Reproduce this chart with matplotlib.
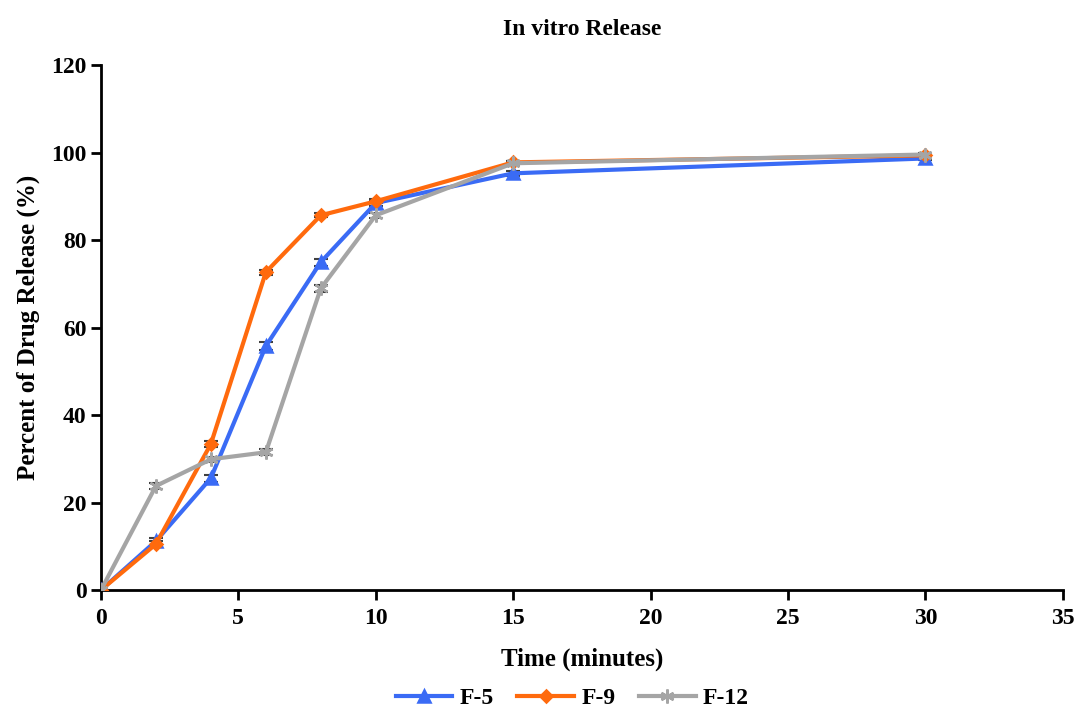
import numpy as np
import matplotlib.pyplot as plt

plt.rcParams['font.family'] = ['Liberation Serif', 'DejaVu Serif']
plt.rcParams['font.weight'] = 'bold'

time = [0, 2, 4, 6, 8, 10, 15, 30]
f5 = [0, 11.2, 25.6, 55.8, 75.0, 88.5, 95.3, 98.7]
f9 = [0, 10.5, 33.4, 72.7, 85.7, 88.9, 97.8, 99.4]
f12 = [0, 23.8, 29.9, 31.5, 69.0, 85.7, 97.6, 99.6]
f5_err = [0.5, 0.8, 0.8, 1.0, 0.8, 0.6, 0.5, 0.4]
f9_err = [0.4, 0.6, 0.7, 0.6, 0.5, 0.5, 0.4, 0.3]
f12_err = [0.5, 0.6, 0.6, 0.7, 0.8, 0.6, 0.5, 0.4]

fig = plt.figure(figsize=(10.8, 7.1), dpi=100)
ax = fig.add_axes([0.0935, 0.169, 0.8905, 0.739])

series = [
    ('F-5', f5, f5_err, '#3A6BF5', '^', 8),
    ('F-9', f9, f9_err, '#FF6A0D', 'D', 6),
    ('F-12', f12, f12_err, '#A5A5A5', (6, 2, 0), 10),
]
for name, y, err, col, mk, ms in series:
    ax.errorbar(time, y, yerr=err, fmt='none', ecolor='#404040',
                elinewidth=1.2, capsize=5, capthick=1.5, zorder=2)
    ax.plot(time, y, color=col, lw=3, marker=mk, ms=ms, mec=col,
            mew=1.8, label=name, zorder=3)

ax.set_xlim(0, 35)
ax.set_ylim(0, 120)
ax.set_xticks(np.arange(0, 36, 5))
ax.set_yticks(np.arange(0, 121, 20))
for s in ['top', 'right']:
    ax.spines[s].set_visible(False)
for s in ['left', 'bottom']:
    ax.spines[s].set_linewidth(2)
ax.tick_params(direction='out', length=7, width=2, labelsize=17)
ax.tick_params(axis='x', pad=6)
for lab in ax.get_xticklabels() + ax.get_yticklabels():
    lab.set_fontweight('bold')

ax.set_xlabel('Time (minutes)', fontsize=18, fontweight='bold', labelpad=13)
ax.set_ylabel('Percent of Drug Release (%)', fontsize=18, fontweight='bold', labelpad=8)
ax.set_title('In vitro Release', fontsize=17, fontweight='bold', pad=22)

ax.legend(loc='center', bbox_to_anchor=(0.49, -0.207), ncol=3, frameon=False,
          fontsize=17, handlelength=2.4, columnspacing=1.0, handletextpad=0.3)

fig.savefig('out.png', dpi=100)
